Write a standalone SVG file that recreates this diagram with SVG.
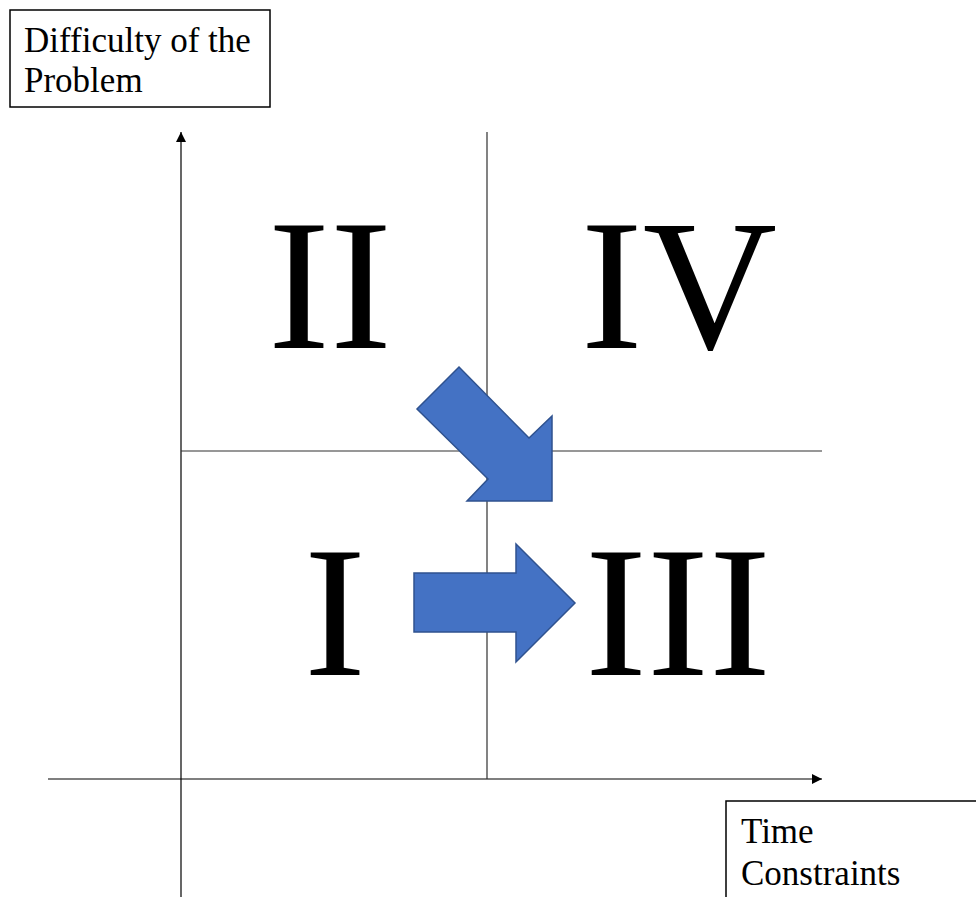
<svg xmlns="http://www.w3.org/2000/svg" width="976" height="897" viewBox="0 0 976 897">
<style>
.lbl{font-family:"Liberation Serif","Times New Roman",serif;font-size:35px;fill:#000}
.num{font-family:"Liberation Serif","Times New Roman",serif;font-size:186px;fill:#000;text-anchor:middle}
.box{fill:#fff;stroke:#000;stroke-width:1.5}
.ax{stroke:#000;stroke-width:1.2;fill:none}
.ql{stroke:#303030;stroke-width:1.2;fill:none}
.arr{fill:#4472C4;stroke:#2F528F;stroke-width:1.5;stroke-linejoin:miter}
</style>
<defs>
<marker id="ah" viewBox="0 0 10 10" refX="10" refY="5" markerWidth="10" markerHeight="10" markerUnits="userSpaceOnUse" orient="auto">
<path d="M0,0 L10,5 L0,10 Z" fill="#000"/>
</marker>
</defs>
<rect width="976" height="897" fill="#fff"/>
<g id="connectors">
<line class="ax" x1="181" y1="897" x2="181" y2="132" marker-end="url(#ah)"/>
<line class="ax" x1="48" y1="779" x2="822" y2="779" marker-end="url(#ah)"/>
<line class="ql" x1="487" y1="132" x2="487" y2="779"/>
<line class="ql" x1="181" y1="451" x2="822" y2="451"/>
</g>
<g id="label-difficulty">
<rect class="box" x="10" y="10" width="260" height="97"/>
<text class="lbl" x="24" y="52">Difficulty of the</text>
<text class="lbl" x="24" y="92">Problem</text>
</g>
<g id="label-time">
<rect class="box" x="726" y="801" width="260" height="110"/>
<text class="lbl" x="741" y="843">Time</text>
<text class="lbl" x="741" y="885">Constraints</text>
</g>
<g id="quadrant-II"><text class="num" x="330" y="348">II</text></g>
<g id="quadrant-IV"><text class="num" x="679" y="348">IV</text></g>
<g id="quadrant-I"><text class="num" x="335" y="675">I</text></g>
<g id="quadrant-III"><text class="num" x="678" y="675">III</text></g>
<g id="arrow-diagonal"><polygon class="arr" points="459,367 529,438 552,416 552,501 467,501 488,479 417,409"/></g>
<g id="arrow-right"><polygon class="arr" points="414,573 516,573 516,544 575,603 516,662 516,632 414,632"/></g>
</svg>
